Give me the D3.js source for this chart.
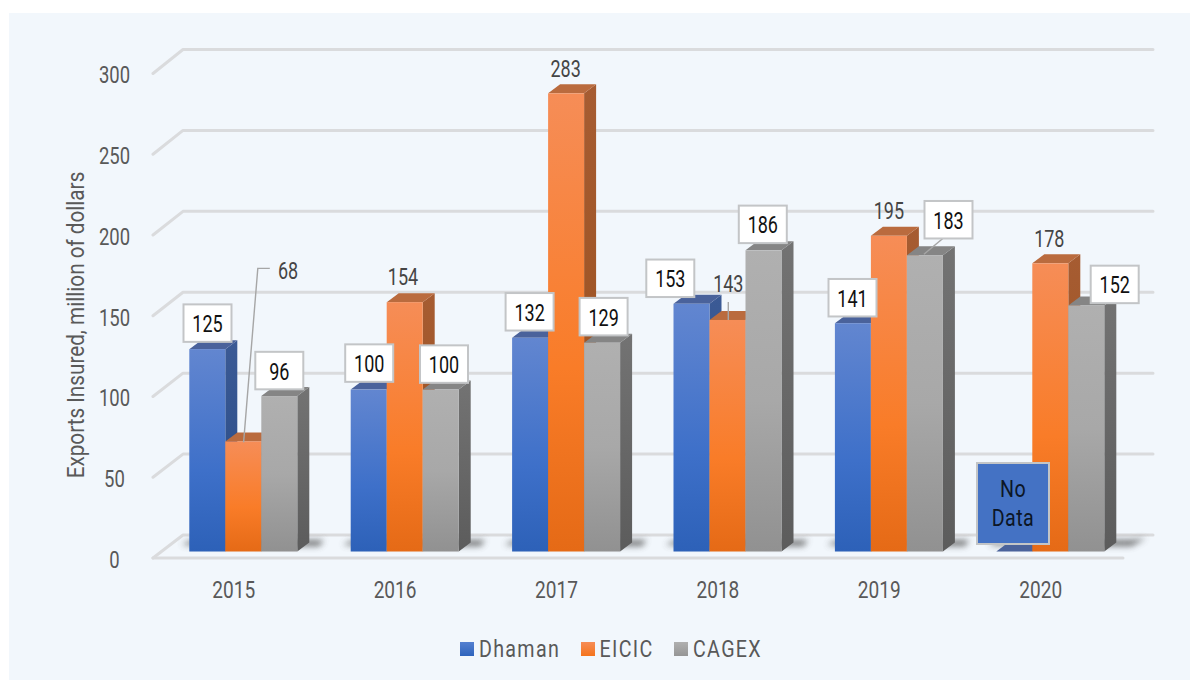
<!DOCTYPE html>
<html><head><meta charset="utf-8">
<style>html,body{margin:0;padding:0;background:#fff}svg{display:block}text{font-family:Roboto,sans-serif}</style>
<script src="https://cdn.jsdelivr.net/npm/d3@7"></script>
</head><body><div id="chart"></div>
<script>
const years = ["2015","2016","2017","2018","2019","2020"];
const seriesNames = ["Dhaman","EICIC","CAGEX"];
const dhaman = [125,100,132,153,141,0];
const eicic = [68,154,283,143,195,178];
const cagex = [96,100,129,186,183,152];
const yTicks = [0,50,100,150,200,250,300];
const yTitle = "Exports Insured, million of dollars";
const noDataLabel = ["No","Data"];
const allSeries = [dhaman,eicic,cagex];

const W=1190,H=680,DX=12,DY=-9,SX=.75;
const svg=d3.select("#chart").append("svg").attr("width",W).attr("height",H);
svg.append("rect").attr("x",9).attr("y",13).attr("width",W-9).attr("height",H-13).attr("fill","#f2f7fc");

const defs=svg.append("defs");
function grad(id,stops){const g=defs.append("linearGradient").attr("id",id).attr("x1",0).attr("y1",0).attr("x2",0).attr("y2",1);
 stops.forEach(([o,c])=>g.append("stop").attr("offset",o).attr("stop-color",c));}
grad("f0",[[0,"#6286d0"],[.6,"#3e70c9"],[1,"#2d61b8"]]);
grad("f1",[[0,"#f68d57"],[.6,"#f97c28"],[1,"#e56a16"]]);
grad("f2",[[0,"#b0b0b0"],[.5,"#a8a8a8"],[1,"#919191"]]);
grad("s0",[[0,"#3b5a95"],[1,"#274a85"]]);
grad("s1",[[0,"#a65c32"],[1,"#9a4f1a"]]);
grad("s2",[[0,"#737373"],[1,"#5c5c5c"]]);
grad("leg0",[[0,"#5480d0"],[1,"#2f64bc"]]);
grad("leg1",[[0,"#f68d57"],[1,"#f5741c"]]);
grad("leg2",[[0,"#b0b0b0"],[1,"#959595"]]);
const tops=["#4a629b","#ba6b3e","#858585"];
const blur=defs.append("filter").attr("id","blur").attr("x","-20%").attr("y","-200%").attr("width","140%").attr("height","500%");
blur.append("feGaussianBlur").attr("stdDeviation",3.2);

// scales
const yBar=d3.scaleLinear().domain([0,300]).range([551.5,65.8]);
const yBack=d3.scaleLinear().domain([0,300]).range([535,49.5]);
const yFront=d3.scaleLinear().domain([0,300]).range([558,73.5]);
const xBack=d3.scaleLinear().domain([0,1]).range([183,1153]);
const xGroup=d3.scaleBand().domain(years).range([153,1121.4]).paddingInner(0).paddingOuter(0);
const barW=36;
const xBar=(yi,si)=>xGroup(years[yi])+36.3+si*barW;

function condensed(parent,x,y,str,o={}){
 const g=parent.append("g").attr("transform",`translate(${x},${y}) scale(${o.sx||SX},1)`);
 return g.append("text").attr("text-anchor","middle").attr("dominant-baseline","central")
  .attr("font-size",o.size||24).attr("fill",o.fill||"#595959").attr("letter-spacing",o.ls||0).text(str);
}

// grid
const grid=svg.append("g").attr("fill","none").attr("stroke","#dadbdd").attr("stroke-width",3);
yTicks.forEach(t=>{
 grid.append("path").attr("stroke-linecap","round").attr("stroke-linejoin","round")
  .attr("d",d3.line()([[xBack.range()[0]-30,yFront(t)],[xBack.range()[0],yBack(t)],[xBack.range()[1],yBack(t)]]));
});
grid.append("path").attr("d",d3.line()([[153,yFront(0)],[1123,yFront(0)]])).attr("stroke-linecap","round");

// floor shadows
const shadow=svg.append("g").attr("filter","url(#blur)").attr("fill","#555").attr("opacity",.85);
years.forEach((y,i)=>{
 const x0=xBar(i,0);
 shadow.append("path").attr("d",d3.line()([[x0-8,545],[x0,541],[x0+135,540],[x0+(i==5?150:136),538],[x0+(i==5?135:130),546]]));
});

// axis labels
yTicks.forEach(t=>condensed(svg,114.5,yFront(t)+1.5,t,{size:24,sx:.77}));
years.forEach(y=>condensed(svg,xGroup(y)+xGroup.bandwidth()/2,590,y,{size:23,sx:.83}));
{const g=svg.append("g").attr("transform","translate(76,325) rotate(-90) scale(.9,1)");
 g.append("text").attr("text-anchor","middle").attr("dominant-baseline","central").attr("font-size",23).attr("fill","#595959").text(yTitle);}

// bars
const barsG=svg.append("g");
years.forEach((yr,i)=>{
 allSeries.forEach((s,si)=>{
  const v=s[i],x=xBar(i,si),y=yBar(v),b=yBar(0),line=d3.line();
  barsG.append("path").attr("fill",`url(#s${si})`).attr("d",line([[x+barW,y],[x+barW+DX,y+DY],[x+barW+DX,b+DY],[x+barW,b]])+"Z");
  barsG.append("path").attr("fill",tops[si]).attr("d",line([[x,y],[x+DX,y+DY],[x+barW+DX,y+DY],[x+barW,y]])+"Z");
  if(v>0) barsG.append("rect").attr("x",x).attr("y",y).attr("width",barW).attr("height",b-y).attr("fill",`url(#f${si})`);
 });
});

// value labels: [year index, series index, kind, dx from bar centre, dy from bar top]
const labelPlacement=[
 [0,0,"box",0.2,-26],[0,1,"leader",44.7,-170.5],[0,2,"box",0,-25.5],
 [1,0,"box",0.5,-26.5],[1,1,"plain",-1.7,-25.5],[1,2,"box",3.3,-25.5],
 [2,0,"box",-0.5,-26],[2,1,"plain",-0.5,-25],[2,2,"box",1.5,-26],
 [3,0,"box",-21.2,-25.5],[3,1,"leader",0.8,-36],[3,2,"box",-0.7,-26],
 [4,0,"box",-0.4,-25.5],[4,1,"plain",0,-25],[4,2,"box",23.6,-35.5],
 [5,1,"plain",-1,-25],[5,2,"box",28.4,-21]
];
const leaders=svg.append("g").attr("fill","none").attr("stroke","#a6a6a6").attr("stroke-width",1.4);
const labels=svg.append("g");
function box(cx,cy,w,h,fill){labels.append("rect").attr("x",cx-w/2).attr("y",cy-h/2).attr("width",w).attr("height",h).attr("fill",fill).attr("stroke","#c3c5c7").attr("stroke-width",2);}
labelPlacement.forEach(([yi,si,kind,dx,dy])=>{
 const v=allSeries[si][yi],cx=xBar(yi,si)+barW/2,top=yBar(v),lx=cx+dx,ly=top+dy;
 if(kind==="box"){box(lx,ly,48,37.5,"#fff");condensed(labels,lx,ly+.5,v,{fill:"#111"});}
 else condensed(labels,lx,ly,v,{fill:"#454545"});
 if(kind==="leader"){
  if(yi===0) leaders.append("path").attr("d",d3.line()([[cx+.3,top+1],[cx+14.5,ly-2.5],[cx+26.5,ly-2.5]]));
  else leaders.append("path").attr("d",d3.line()([[cx+.8,top],[cx+.8,top-18]]));
 }
});
// leader of the 2019 CAGEX box
{const cx=xBar(4,2)+barW/2,top=yBar(cagex[4]);
 leaders.append("path").attr("d",d3.line()([[cx-1,top-1],[cx+23,top-21]]));}

// No Data box
{const cx=xBar(5,0)+barW/2-1.3,cy=503.5;
 box(cx,cy,72,81,"#4472c4");
 condensed(labels,cx,cy-14.5,noDataLabel[0],{fill:"#0c1626",ls:.5,sx:.82});
 condensed(labels,cx,cy+14.5,noDataLabel[1],{fill:"#0c1626",ls:.5,sx:.82});}

// legend
const legendX=[460,581,674],legendTextX=[519.5,626.5,727.5];
seriesNames.forEach((n,i)=>{
 svg.append("rect").attr("x",legendX[i]).attr("y",642).attr("width",14).attr("height",14).attr("fill",`url(#leg${i})`);
 condensed(svg,legendTextX[i],649,n,{size:24,ls:1.6,sx:.82});
});
</script></body></html>
